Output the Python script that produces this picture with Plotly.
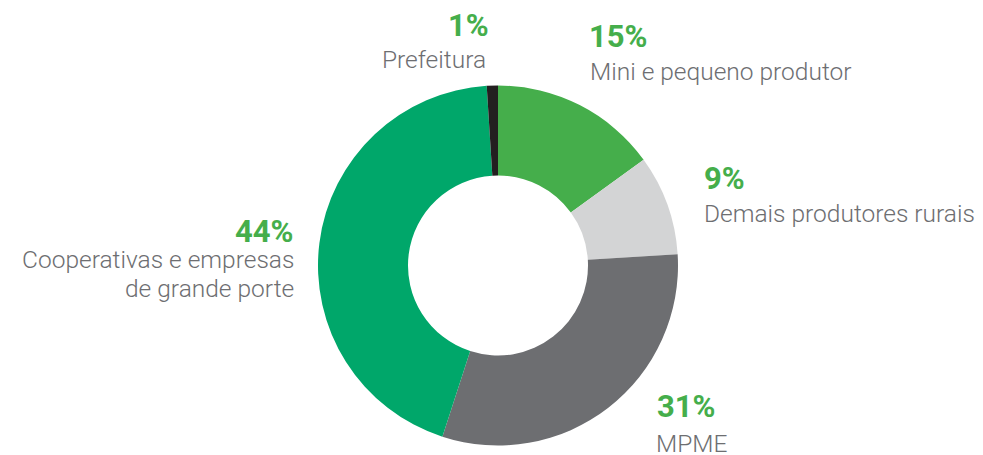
import plotly.graph_objects as go

categories = ["Mini e pequeno produtor", "Demais produtores rurais", "MPME",
              "Cooperativas e empresas de grande porte", "Prefeitura"]
label_lines = [["Mini e pequeno produtor"], ["Demais produtores rurais"], ["MPME"],
               ["Cooperativas e empresas", "de grande porte"], ["Prefeitura"]]
values = [15, 9, 31, 44, 1]
pct_labels = ["15%", "9%", "31%", "44%", "1%"]
colors = ["#45AE4B", "#D3D4D5", "#6D6E71", "#00A76A", "#231F20"]

# The page body has an 8px margin; the figure is sized and offset for it.
OFF = 8
W, H = 983 - OFF, 455 - OFF


def px(x):
    return (x - OFF) / W


def py(y):
    return 1 - (y - OFF) / H


cx, cy, r = 498, 265.5, 180
fig = go.Figure(go.Pie(
    labels=categories, values=values, sort=False, direction="clockwise",
    rotation=0, hole=0.5, marker=dict(colors=colors, line=dict(width=0)),
    textinfo="none", hoverinfo="label+percent",
    domain=dict(x=[px(cx - r), px(cx + r)], y=[py(cy + r), py(cy - r)]),
    showlegend=False,
))

# label placement (reference pixel coords): percent x, y ; label x, line ys ; anchor
pos = [
    ((587, 36.5), (588, [71]), "left"),
    ((702, 178), (702, [213]), "left"),
    ((655, 406), (654, [443.5]), "left"),
    ((296, 231), (296, [259, 288]), "right"),
    ((491, 26), (488, [60]), "right"),
]

ann = []
for (pp, (lx, lys), anc), pct, lines in zip(pos, pct_labels, label_lines):
    ann.append(dict(x=px(pp[0]), y=py(pp[1]), xref="paper", yref="paper",
                    text="<b>" + pct + "</b>", showarrow=False, xanchor=anc,
                    yanchor="middle",
                    font=dict(family="Roboto", size=31, color="#45AE4B")))
    for ly, line in zip(lys, lines):
        ann.append(dict(x=px(lx), y=py(ly), xref="paper", yref="paper",
                        text=line, showarrow=False, xanchor=anc, yanchor="middle",
                        font=dict(family="Roboto", size=24.5, color="#6D6E71",
                                  weight=300)))

fig.update_layout(width=W, height=H, margin=dict(l=0, r=0, t=0, b=0),
                  paper_bgcolor="white", plot_bgcolor="white", annotations=ann)
fig.write_html("out.html")
